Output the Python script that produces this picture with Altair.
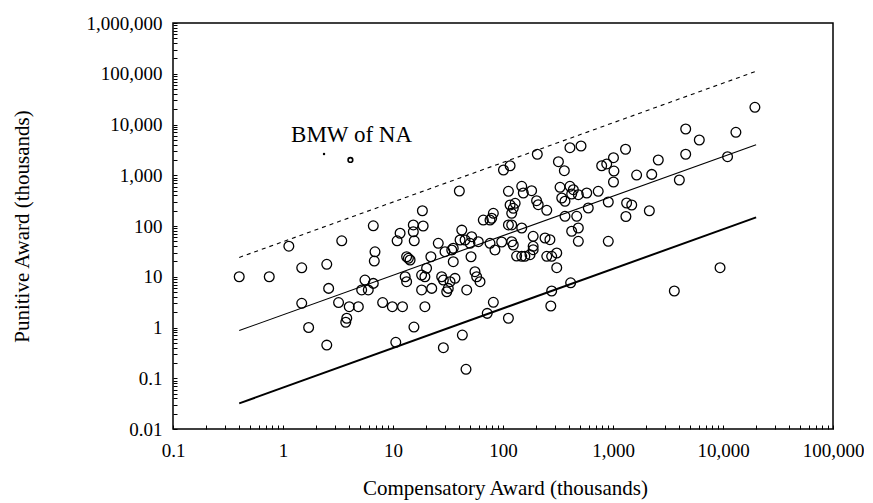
import altair as alt
import pandas as pd

FONT = "Liberation Serif"

# Compensatory award (thousands) and punitive award (thousands)
compensatory = [
    0.4, 0.75, 1.13, 1.48, 1.48, 1.71, 2.5, 2.5, 2.6, 3.42,
    3.2, 4.0, 4.84, 3.8, 3.72, 5.56, 5.19, 5.96, 6.62, 6.62,
    6.86, 6.76, 8.05, 9.86, 10.6, 10.9, 11.6, 12.2, 13.3, 13.8,
    14.3, 12.9, 13.3, 15.3, 18.8, 15.3, 15.6, 18.5, 15.5, 18.2,
    19.5, 20.2, 18.2, 22.5, 19.5, 22.1, 25.8, 27.7, 28.7, 29.7,
    34.2, 35.3, 35.3, 33, 36.6, 31.8, 30.8, 28.7, 42.7, 46.1,
    40.1, 42.2, 40.7, 45.2, 51.9, 50.1, 59.6, 51.2, 46.8, 55.6,
    57.6, 61.8, 66.2, 76.2, 81.7, 78.9, 76.2, 84.5, 81.7, 71.9,
    101, 116, 112, 97.3, 116, 124, 120, 129, 112, 120,
    120, 124, 133, 148, 158, 176, 112, 148, 153, 182,
    205, 202, 209, 250, 148, 188, 241, 267, 188, 188,
    250, 277, 308, 308, 319, 361, 406, 512, 330, 406,
    436, 421, 484, 577, 734, 342, 366, 596, 906, 1010,
    789, 877, 1010, 1020, 1300, 1330, 1480, 1310, 2140, 1640,
    2250, 2580, 4010, 4580, 4580, 6090, 11000, 13100, 19500, 366,
    468, 484, 421, 484, 906, 412, 277, 272, 3610, 9400,
]
punitive = [
    10, 10, 40, 15, 3.0, 1.0, 0.45, 17.6, 5.9, 51,
    3.1, 2.57, 2.57, 1.52, 1.27, 8.6, 5.5, 5.5, 7.4, 101,
    31, 20.4, 3.1, 2.57, 0.51, 51, 72, 2.57, 24.8, 23.1,
    21.4, 10.0, 8.0, 105, 100, 77, 51, 200, 1.02, 10.8,
    10.0, 14.7, 5.5, 5.9, 2.57, 24.8, 45.6, 10.0, 8.6, 31.2,
    33.7, 36.4, 19.8, 8.0, 9.3, 5.9, 5.07, 0.40, 0.71, 0.15,
    490, 83, 53, 53, 61.5, 45.6, 49.1, 24.8, 5.5, 12.6,
    10.0, 8.0, 131, 131, 178, 142, 45.6, 33.7, 3.14, 1.9,
    1270, 1540, 483, 48.4, 259, 223, 178, 280, 105, 105,
    49.1, 42.2, 25.6, 25.3, 25.3, 27.2, 1.52, 606, 447, 496,
    2590, 315, 263, 204, 91.4, 62.7, 58, 53.7, 39.8, 34.1,
    25.3, 25.3, 29.4, 15.1, 1850, 1230, 3490, 3770, 579, 606,
    519, 427, 414, 447, 483, 356, 307, 226, 297, 736,
    1540, 1670, 2220, 1210, 3250, 284, 259, 154, 200, 1010,
    1040, 2000, 806, 2590, 8150, 4950, 2320, 7020, 21800, 155,
    155, 91.4, 78.7, 49.9, 49.9, 7.6, 5.24, 2.65, 5.24, 15.1,
]

# Fitted line and band (straight in log-log space)
line_x = [0.4, 20000]
mid_line = [0.87, 4000]
upper_line = [24, 112000]
lower_line = [0.032, 148]

# BMW of North America case
bmw_x = [4.1]
bmw_y = [2000]
bmw_dot_x = [2.36]
bmw_dot_y = [2620]
bmw_label = ["BMW of NA"]
bmw_label_x = [4.2]
bmw_label_y = [6200]

x_major = [0.1, 1, 10, 100, 1000, 10000, 100000]
y_major = [0.01, 0.1, 1, 10, 100, 1000, 10000, 100000, 1000000]
x_ticks = [m * v for v in x_major[:-1] for m in range(1, 10)] + [x_major[-1]]
y_ticks = [m * v for v in y_major[:-1] for m in range(1, 10)] + [y_major[-1]]

label_expr = ("abs(log(datum.value)/LN10 - round(log(datum.value)/LN10)) < 0.001"
              " ? format(datum.value, ',') : ''")

xscale = alt.Scale(type="log", domain=[0.1, 100000], nice=False)
yscale = alt.Scale(type="log", domain=[0.01, 1000000], nice=False)

xaxis = alt.Axis(
    values=x_ticks, labelExpr=label_expr, tickSize=4, offset=-4, domain=False,
    grid=False, tickColor="black", tickWidth=1, labelFont=FONT, labelFontSize=19,
    labelColor="black", labelPadding=12, labelOverlap=False, labelFlush=False,
    title="Compensatory Award (thousands)", titleFont=FONT, titleFontSize=21,
    titleFontWeight="normal", titleColor="black", titleX=332, titleY=63,
    titleBaseline="middle",
)
yaxis = alt.Axis(
    values=y_ticks, labelExpr=label_expr, tickSize=4, offset=-4, domain=False,
    grid=False, tickColor="black", tickWidth=1, labelFont=FONT, labelFontSize=19,
    labelColor="black", labelPadding=11, labelOverlap=False, labelFlush=False,
    title="Punitive Award (thousands)", titleFont=FONT, titleFontSize=21,
    titleFontWeight="normal", titleColor="black", titleX=-155, titleY=203,
    titleAngle=-90, titleBaseline="middle",
)

X = alt.X("x:Q", scale=xscale, axis=xaxis)
Y = alt.Y("y:Q", scale=yscale, axis=yaxis)

pts_df = pd.DataFrame({"x": compensatory, "y": punitive})
mid_df = pd.DataFrame({"x": line_x, "y": mid_line})
up_df = pd.DataFrame({"x": line_x, "y": upper_line})
low_df = pd.DataFrame({"x": line_x, "y": lower_line})
bmw_df = pd.DataFrame({"x": bmw_x, "y": bmw_y})
dot_df = pd.DataFrame({"x": bmw_dot_x, "y": bmw_dot_y})
lab_df = pd.DataFrame({"x": bmw_label_x, "y": bmw_label_y, "t": bmw_label})

points = alt.Chart(pts_df).mark_point(
    shape="circle", filled=False, size=95, strokeWidth=1.3, color="black", opacity=1
).encode(x=X, y=Y)

mid = alt.Chart(mid_df).mark_line(color="black", strokeWidth=1.1).encode(x=X, y=Y)
up = alt.Chart(up_df).mark_line(color="black", strokeWidth=1.1, strokeDash=[4, 4]).encode(x=X, y=Y)
low = alt.Chart(low_df).mark_line(color="black", strokeWidth=2).encode(x=X, y=Y)

bmw = alt.Chart(bmw_df).mark_point(
    shape="circle", filled=False, size=22, strokeWidth=1.6, color="black", opacity=1
).encode(x=X, y=Y)
dot = alt.Chart(dot_df).mark_point(
    shape="circle", filled=True, size=6, color="black", opacity=1
).encode(x=X, y=Y)
label = alt.Chart(lab_df).mark_text(
    font=FONT, fontSize=23, color="black", baseline="middle", align="center"
).encode(x=X, y=Y, text="t:N")

chart = alt.layer(up, mid, low, points, bmw, dot, label).properties(
    width=660, height=406,
    padding={"left": 165, "top": 15, "right": 31, "bottom": 73},
    autosize=alt.AutoSizeParams(type="none"),
    background="white",
).configure_view(stroke="black", strokeWidth=1.5)

chart.save("out.html", embed_options={"renderer": "svg", "actions": False})
